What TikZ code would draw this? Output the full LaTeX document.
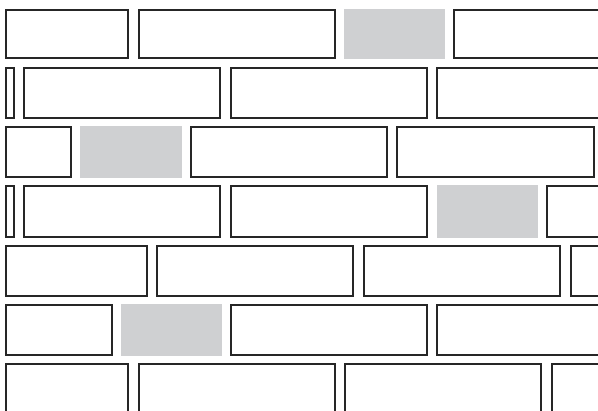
\documentclass[tikz,border=0pt]{standalone}
\usepackage{tikz}
\usepackage{xcolor}
\definecolor{mortargray}{RGB}{207,208,210}

\begin{document}
\begin{tikzpicture}[
    x=0.5pt, y=-0.5pt,
    brick/.style={draw=black!85, line width=1pt, fill=white},
    graybrick/.style={fill=mortargray}
]
\useasboundingbox (0,0) rectangle (598,411);
\clip (0,0) rectangle (598,411);

\draw[brick] (6,10) rectangle (128,58);
\draw[brick] (139,10) rectangle (335,58);
\fill[graybrick] (344,9) rectangle (445,59);
\draw[brick] (454,10) rectangle (650,58);

\draw[brick] (6,68) rectangle (14,118);
\draw[brick] (24,68) rectangle (220,118);
\draw[brick] (231,68) rectangle (427,118);
\draw[brick] (437,68) rectangle (633,118);

\draw[brick] (6,127) rectangle (71,177);
\fill[graybrick] (80,126) rectangle (182,178);
\draw[brick] (191,127) rectangle (387,177);
\draw[brick] (397,127) rectangle (594,177);

\draw[brick] (6,186) rectangle (14,237);
\draw[brick] (24,186) rectangle (220,237);
\draw[brick] (231,186) rectangle (427,237);
\fill[graybrick] (437,185) rectangle (538,238);
\draw[brick] (547,186) rectangle (743,237);

\draw[brick] (6,246) rectangle (147,296);
\draw[brick] (157,246) rectangle (353,296);
\draw[brick] (364,246) rectangle (560,296);
\draw[brick] (571,246) rectangle (767,296);

\draw[brick] (6,305) rectangle (112,355);
\fill[graybrick] (121,304) rectangle (222,356);
\draw[brick] (231,305) rectangle (427,355);
\draw[brick] (437,305) rectangle (633,355);

\draw[brick] (6,364) rectangle (128,430);
\draw[brick] (139,364) rectangle (335,430);
\draw[brick] (345,364) rectangle (541,430);
\draw[brick] (552,364) rectangle (748,430);
\end{tikzpicture}
\end{document}
